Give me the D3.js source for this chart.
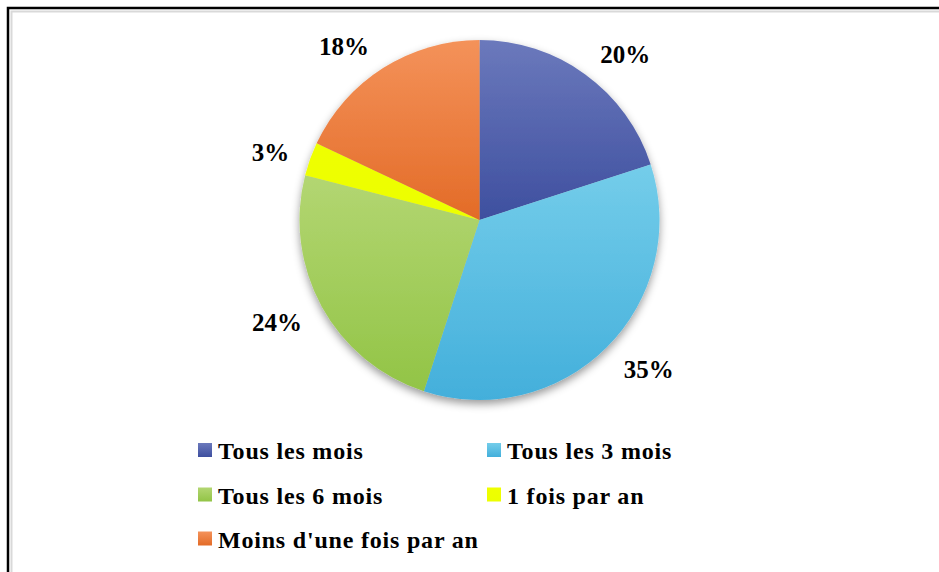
<!DOCTYPE html>
<html>
<head>
<meta charset="utf-8">
<script src="https://cdn.jsdelivr.net/npm/d3@7"></script>
<style>
  body { margin: 0; background: #fff; }
  svg { display: block; }
</style>
</head>
<body>
<div id="chart"></div>
<script>
// data
let categories = ["Tous les mois", "Tous les 3 mois", "Tous les 6 mois", "1 fois par an", "Moins d'une fois par an"]
let values = [20, 35, 24, 3, 18]
let labels = ["20%", "35%", "24%", "3%", "18%"]
let topColors = ["#6b79bc", "#74cdea", "#b3d672", "#efff00", "#f4925a"]
let bottomColors = ["#3e4f9f", "#43afdb", "#92c446", "#ecff00", "#e36b27"]

let width = 939, height = 572
let cx = 479.5, cy = 220, radius = 180

let svg = d3.select("#chart")
  .append("svg")
  .attr("width", width)
  .attr("height", height)

let defs = svg.append("defs")

// drop shadow under the pie
let filter = defs.append("filter")
  .attr("id", "shadow")
  .attr("x", "-20%").attr("y", "-20%")
  .attr("width", "140%").attr("height", "140%")
filter.append("feDropShadow")
  .attr("dx", 0).attr("dy", 4)
  .attr("stdDeviation", 4.5)
  .attr("flood-color", "#000")
  .attr("flood-opacity", 0.4)

// one vertical gradient per slice
categories.forEach(function (c, i) {
  let g = defs.append("linearGradient")
    .attr("id", "grad" + i)
    .attr("x1", 0).attr("y1", 0)
    .attr("x2", 0).attr("y2", 1)
  g.append("stop").attr("offset", "0%").attr("stop-color", topColors[i])
  g.append("stop").attr("offset", "100%").attr("stop-color", bottomColors[i])
})

// frame
svg.append("rect")
  .attr("x", 11.5).attr("y", 11.5)
  .attr("width", 1000).attr("height", 1000)
  .attr("fill", "none")
  .attr("stroke", "#d9d9d9")
  .attr("stroke-width", 2)
svg.append("rect")
  .attr("x", 8).attr("y", 8)
  .attr("width", 1000).attr("height", 1000)
  .attr("fill", "none")
  .attr("stroke", "#000")
  .attr("stroke-width", 2.5)

let pie = d3.pie().sort(null).value(function (d) { return d })
let arcs = pie(values)

let arc = d3.arc().innerRadius(0).outerRadius(radius)

let g = svg.append("g")
  .attr("transform", "translate(" + cx + "," + cy + ")")

g.append("g")
  .attr("filter", "url(#shadow)")
  .selectAll("path")
  .data(arcs)
  .enter()
  .append("path")
  .attr("d", arc)
  .attr("fill", function (d, i) { return "url(#grad" + i + ")" })

// labels outside the pie, text box pushed away from the edge
let labelRadius = 197
g.selectAll("text.lbl")
  .data(arcs)
  .enter()
  .append("text")
  .attr("class", "lbl")
  .attr("font-family", "'Liberation Serif', 'Times New Roman', serif")
  .attr("font-weight", "bold")
  .attr("font-size", 25)
  .attr("text-anchor", "middle")
  .text(function (d, i) { return labels[i] })
  .each(function (d) {
    let a = (d.startAngle + d.endAngle) / 2
    let w = this.getComputedTextLength()
    let sx = Math.sin(a), sy = -Math.cos(a)
    let x = labelRadius * sx + (sx >= 0 ? 1 : -1) * (w / 2 + 5)
    let y = labelRadius * sy + sy * 11 + 11
    d3.select(this).attr("x", x).attr("y", y)
  })

// legend
let legendX = [198, 487]
let legendY = [450, 494.5, 538.5]
let legend = svg.append("g")
categories.forEach(function (c, i) {
  let col = i % 2, row = Math.floor(i / 2)
  let item = legend.append("g")
    .attr("transform", "translate(" + legendX[col] + "," + legendY[row] + ")")
  item.append("rect")
    .attr("x", 0).attr("y", -7)
    .attr("width", 14).attr("height", 14)
    .attr("fill", "url(#grad" + i + ")")
  item.append("text")
    .attr("x", 20).attr("y", 9)
    .attr("font-family", "'Liberation Serif', 'Times New Roman', serif")
    .attr("font-weight", "bold")
    .attr("font-size", 24)
    .attr("letter-spacing", 0.8)
    .text(c)
})
</script>
</body>
</html>
